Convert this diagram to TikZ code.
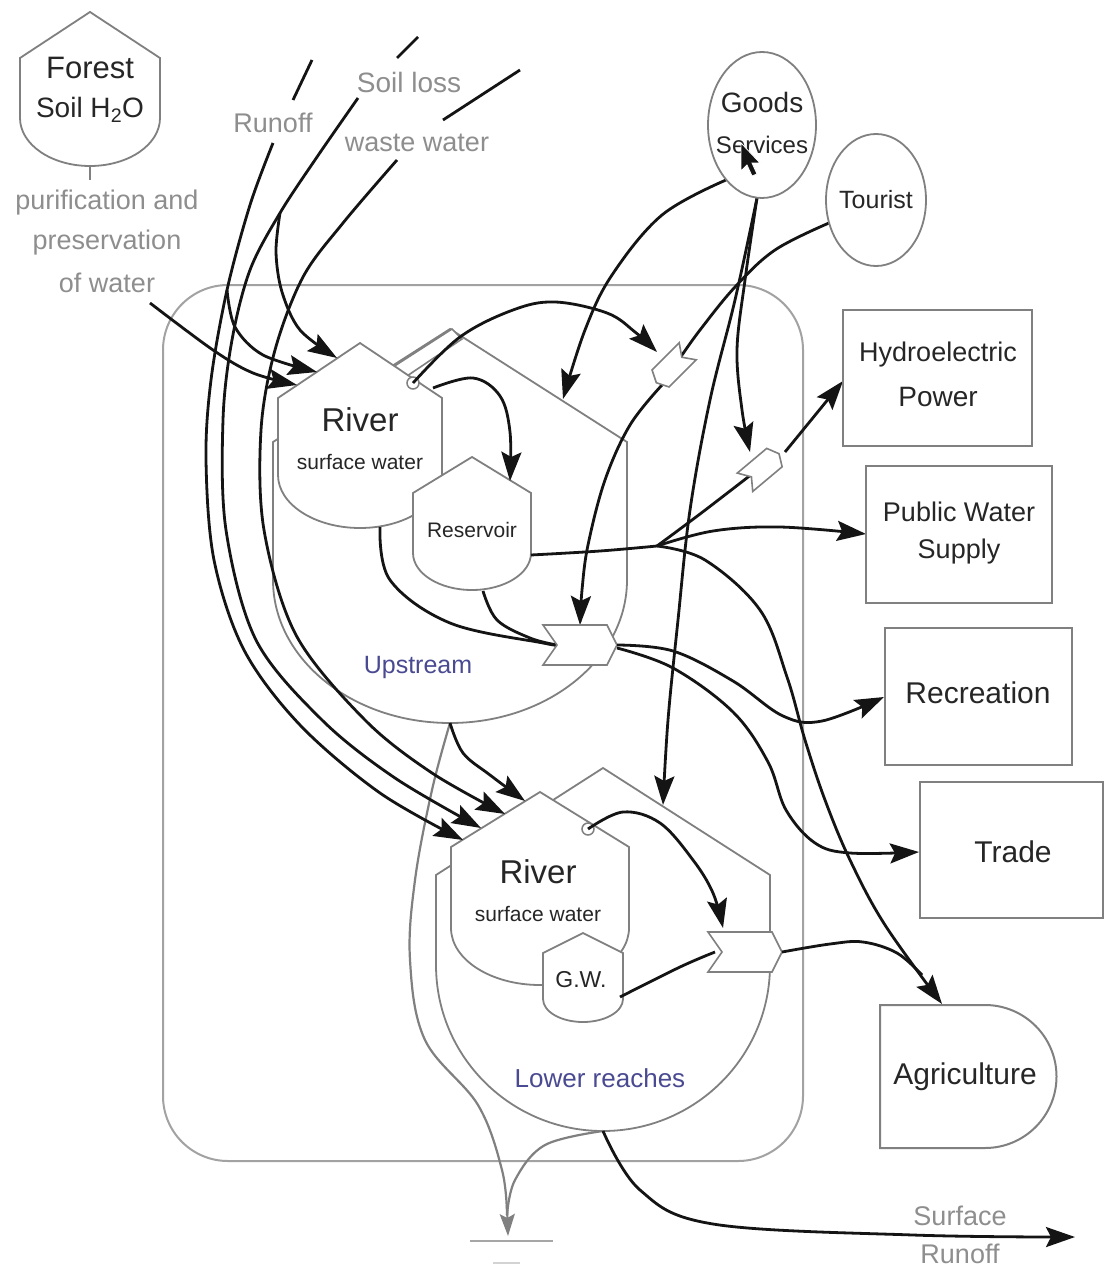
\documentclass[tikz,border=0pt]{standalone}
\usepackage{fontspec}
\setmainfont{Liberation Sans}
\usetikzlibrary{arrows.meta}
\definecolor{ink}{HTML}{141414}
\definecolor{rim}{HTML}{808080}
\definecolor{framegray}{HTML}{A2A2A2}
\definecolor{faint}{HTML}{8E8E8E}
\definecolor{zone}{HTML}{4A4A92}
\definecolor{txt}{HTML}{262626}
\newcommand{\fs}[1]{\fontsize{#1pt}{#1pt}\selectfont}
% storage tank: centre x, apex y, half width, shoulder y, side bottom y, bottom y
\newcommand{\tankshape}[6]{%
  \filldraw[tankline] (#1-#3,#4) -- (#1,#2) -- (#1+#3,#4) -- (#1+#3,#5)
    arc[start angle=0,end angle=180,x radius=#3,y radius=#6-#5] -- cycle;}
\tikzset{
  flow/.style={draw=ink,line width=2.8pt,-{Stealth[length=29pt,width=20pt,inset=5pt]}},
  plainflow/.style={draw=ink,line width=2.8pt},
  tankline/.style={draw=rim,line width=1.8pt,fill=white},
  boxline/.style={draw=rim,line width=2pt},
  frameline/.style={draw=framegray,line width=2pt},
  sinkline/.style={draw=rim,line width=2.2pt},
  lab/.style={inner sep=0pt,text=txt},
  faintlab/.style={inner sep=0pt,text=faint,font=\fs{27}},
  zonelab/.style={inner sep=0pt,text=zone,font=\fs{25}},
  pics/gate/.style={code={\filldraw[tankline,line width=1.6pt] (-37,-20) -- (27,-20) -- (37,0) -- (27,20) -- (-37,20) -- (-23,0) -- cycle;}},
}
\begin{document}
\begin{tikzpicture}[x=1pt,y=-1pt]
\useasboundingbox (0,0) rectangle (1110,1273);
\fill[white] (0,0) rectangle (1110,1273);

% ---------- system frame ----------
\draw[frameline,rounded corners=65pt] (163,285) rectangle (803,1161);

% ---------- named ports ----------
\coordinate (runA) at (312,60);   \coordinate (runB) at (293,100);  \coordinate (runS) at (273,143);
\coordinate (soilA) at (418,37);  \coordinate (soilB) at (397,58);  \coordinate (soilS) at (358,98);
\coordinate (wasA) at (520,70);   \coordinate (wasB) at (443,120);  \coordinate (wasS) at (397,160);
\coordinate (runFork) at (227,290);
\coordinate (soilFork) at (280,213);
\coordinate (purS) at (150,303);
\coordinate (rivUa) at (337,358); \coordinate (rivUb) at (317,372); \coordinate (rivUc) at (297,385);
\coordinate (rivLa) at (463,840); \coordinate (rivLb) at (481,828); \coordinate (rivLc) at (505,814); \coordinate (rivLd) at (525,801);
\coordinate (upBot) at (450,723);
\coordinate (loBot) at (603,1131);
\coordinate (rivUport) at (413,383);
\coordinate (rivLport) at (588,829);
\coordinate (rivUbot) at (380,527);
\coordinate (resBot) at (483,591);
\coordinate (resIn) at (510,481);
\coordinate (resOut) at (531,555);
\coordinate (fan) at (657,546);
\coordinate (gwOut) at (620,997);
\coordinate (goodsA) at (726,180);
\coordinate (goodsB) at (757,198);
\coordinate (tourOut) at (829,223);
\coordinate (upEdge) at (563,399);
\coordinate (loEdge) at (663,805);
\coordinate (sinkTip) at (508,1236);

% ---------- large storages ----------
\tankshape{450}{329}{177}{442}{580}{723}
\tankshape{603}{768}{167}{875}{965}{1131}
% outflow pipe on the upstream river
\filldraw[tankline,line width=1.6pt] (393,367) -- (452,329) -- (462,339) -- (404,378) -- cycle;

% ---------- storages ----------
\tankshape{90}{12}{70}{58}{118}{166}
\tankshape{360}{343}{82}{398}{475}{528}
\tankshape{472}{457}{59}{493}{553}{590}
\tankshape{540}{792}{89}{847}{928}{985}
\tankshape{583}{933}{40}{953}{999}{1022}
\filldraw[tankline,line width=1.5pt] (rivUport) circle (6);
\filldraw[tankline,line width=1.5pt] (rivLport) circle (6);
\draw[rim,line width=2.2pt] (90,167) -- (90,180);

% ---------- heat sink ----------
\draw[sinkline] plot[smooth,tension=0.6] coordinates {(upBot) (432,790) (415,880) (410,960) (425,1040) (478,1105) (502,1170) (507,1215)};
\draw[sinkline] plot[smooth,tension=0.6] coordinates {(loBot) (545,1145) (515,1180) (507,1215)};
\draw[sinkline,-{Stealth[length=22pt,width=15pt,inset=4pt]}] (507,1205) -- (sinkTip);
\draw[rim!70,line width=2pt] (470,1241) -- (553,1241);
\draw[rim!35,line width=2pt] (493,1263) -- (520,1263);

% ---------- inputs from the left ----------
\draw[plainflow] (runA) -- (runB);
\draw[plainflow] (soilA) -- (soilB);
\draw[plainflow] (wasA) -- (wasB);
\draw[flow] plot[smooth,tension=0.55] coordinates {(runS) (250,205) (runFork) (211,380) (206,460) (214,560) (244,650) (300,725) (380,793) (rivLa)};
\draw[flow] plot[smooth,tension=0.55] coordinates {(runFork) (235,327) (263,355) (rivUb)};
\draw[flow] plot[smooth,tension=0.55] coordinates {(soilS) (317,157) (soilFork) (250,270) (232,340) (223,420) (226,530) (256,640) (322,720) (395,778) (rivLb)};
\draw[flow] plot[smooth,tension=0.55] coordinates {(soilFork) (276,252) (282,292) (300,330) (rivUa)};
\draw[flow] plot[smooth,tension=0.55] coordinates {(wasS) (343,223) (303,277) (275,350) (261,430) (264,530) (296,635) (365,720) (432,773) (rivLc)};
\draw[flow] plot[smooth,tension=0.55] coordinates {(purS) (213,350) (253,373) (rivUc)};

% ---------- upstream pathways ----------
\draw[flow] plot[smooth,tension=0.6] coordinates {(upBot) (463,753) (490,775) (rivLd)};
\draw[flow] plot[smooth,tension=0.6] coordinates {(rivUport) (460,337) (513,310) (555,302) (607,313) (635,332) (657,352)};
\draw[flow] plot[smooth,tension=0.6] coordinates {(433,388) (473,378) (500,396) (510,432) (resIn)};
\draw[plainflow] plot[smooth,tension=0.6] coordinates {(rivUbot) (390,580) (450,623) (543,643) (557,645)};
\draw[plainflow] plot[smooth,tension=0.6] coordinates {(resBot) (497,620) (530,638) (557,645)};
\draw[plainflow] plot[smooth,tension=0.6] coordinates {(resOut) (600,551) (fan)};
\draw[plainflow] plot[smooth,tension=0.6] coordinates {(fan) (700,514) (752,474)};

% ---------- goods, services and tourists ----------
\draw[flow] plot[smooth,tension=0.6] coordinates {(goodsA) (662,215) (612,275) (585,330) (upEdge)};
\draw[flow] plot[smooth,tension=0.6] coordinates {(goodsB) (745,280) (737,350) (742,410) (750,452)};
\draw[flow] plot[smooth,tension=0.6] coordinates {(goodsB) (735,300) (710,400) (690,510) (678,620) (668,720) (loEdge)};
\draw[plainflow] plot[smooth,tension=0.6] coordinates {(tourOut) (775,250) (735,287) (700,330) (680,358)};
\draw[flow] plot[smooth,tension=0.6] coordinates {(662,385) (630,425) (605,480) (588,545) (582,590) (580,625)};

% ---------- lower reaches pathways ----------
\draw[flow] plot[smooth,tension=0.6] coordinates {(rivLport) (623,812) (660,823) (693,860) (713,893) (723,928)};
\draw[plainflow] plot[smooth,tension=0.6] coordinates {(gwOut) (680,967) (715,952)};
\draw[flow] plot[smooth,tension=0.6] coordinates {(loBot) (640,1190) (713,1224) (913,1235) (1075,1237)};

% ---------- interaction symbols ----------
\pic at (580,645) {gate};
\pic at (745,952) {gate};
\pic[rotate=225,scale=0.6] at (672,367) {gate};
\pic[rotate=40,scale=0.6] at (762,468) {gate};

% ---------- outputs to users ----------
\draw[flow] (785,452) -- (843,381);
\draw[flow] plot[smooth,tension=0.6] coordinates {(fan) (713,531) (780,527) (866,534)};
\draw[flow] plot[smooth,tension=0.6] coordinates {(617,645) (673,651) (733,681) (783,716) (822,721) (884,697)};
\draw[flow] plot[smooth,tension=0.6] coordinates {(617,648) (673,668) (733,712) (768,762) (786,810) (815,843) (850,853) (919,852)};
\draw[flow] plot[smooth,tension=0.6] coordinates {(fan) (705,560) (760,610) (787,677) (805,740) (825,800) (850,860) (885,925) (942,1004)};
\draw[plainflow] plot[smooth,tension=0.6] coordinates {(782,952) (830,944) (863,942) (897,953) (922,975)};

% ---------- sources ----------
\draw[rim,line width=1.8pt,fill=white] (762,125) ellipse [x radius=54,y radius=73];
\draw[rim,line width=1.8pt,fill=white] (876,200) ellipse [x radius=50,y radius=66];

% ---------- user boxes ----------
\draw[boxline] (843,310) rectangle (1032,446);
\draw[boxline] (866,466) rectangle (1052,603);
\draw[boxline] (885,628) rectangle (1072,765);
\draw[boxline] (920,782) rectangle (1103,918);
\draw[boxline] (880,1005) -- (985,1005) arc[start angle=-90,end angle=90,radius=71.5] -- (880,1148) -- cycle;

% ---------- labels ----------
\node[lab,font=\fs{31}] (forest) at (90,68) {Forest};
\node[lab,font=\fs{28}] (soilwater) at (90,110) {Soil H\textsubscript{2}O};
\node[faintlab] (pur1) at (107,203) {purification and};
\node[faintlab] (pur2) at (107,243) {preservation};
\node[faintlab] (pur3) at (107,283) {of water};
\node[faintlab] (runlab) at (273,123) {Runoff};
\node[faintlab,font=\fs{28}] (soillab) at (409,82) {Soil loss};
\node[faintlab] (waslab) at (417,143) {waste water};

\node[lab,font=\fs{33}] (riverU) at (360,420) {River};
\node[lab,font=\fs{21}] (surfU) at (360,462) {surface water};
\node[lab,font=\fs{21}] (reservoir) at (472,530) {Reservoir};
\node[zonelab] (upstream) at (418,667) {Upstream};
\node[lab,font=\fs{33}] (riverL) at (538,872) {River};
\node[lab,font=\fs{21}] (surfL) at (538,914) {surface water};
\node[lab,font=\fs{23}] (gw) at (581,980) {G.W.};
\node[zonelab,font=\fs{26}] (lower) at (600,1078) {Lower reaches};

\node[lab,font=\fs{28}] (goods) at (762,102) {Goods};
\node[lab,font=\fs{24}] (services) at (762,145) {Services};
\node[lab,font=\fs{25}] (tourist) at (876,200) {Tourist};
\node[lab,font=\fs{27}] (hydro1) at (938,355) {Hydroelectric};
\node[lab,font=\fs{28}] (hydro2) at (938,397) {Power};
\node[lab,font=\fs{27}] (pws1) at (959,512) {Public Water};
\node[lab,font=\fs{27}] (pws2) at (959,552) {Supply};
\node[lab,font=\fs{30}] (recreation) at (978,693) {Recreation};
\node[lab,font=\fs{30}] (trade) at (1013,852) {Trade};
\node[lab,font=\fs{30}] (agri) at (965,1077) {Agriculture};
\node[faintlab] (surf1) at (960,1216) {Surface};
\node[faintlab] (surf2) at (960,1254) {Runoff};

% pointer
\filldraw[fill=ink,draw=white,line width=0.8pt] (741,143) -- (741,171) -- (747,165) -- (752,176) -- (757,174) -- (752,163) -- (760,163) -- cycle;
\end{tikzpicture}
\end{document}
